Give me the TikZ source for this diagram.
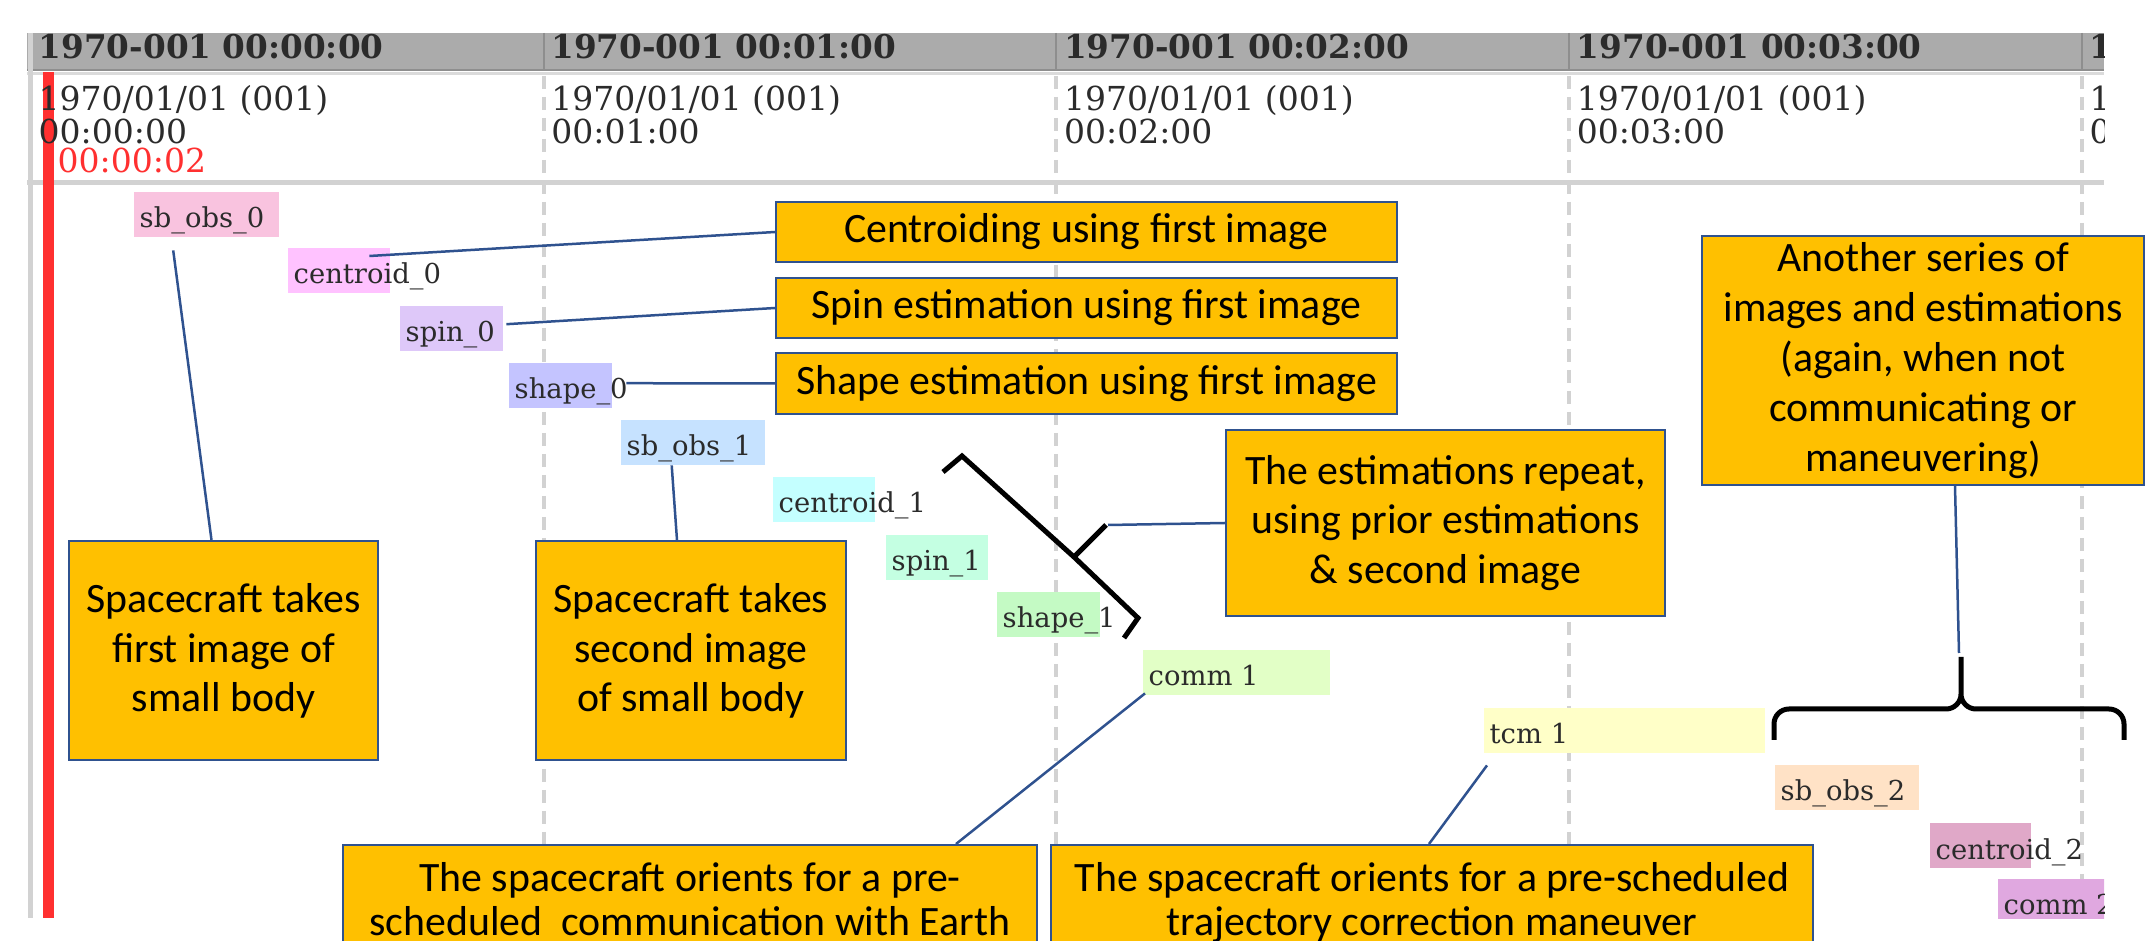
\documentclass[tikz,border=0pt]{standalone}
\usepackage{fontspec}
\setmainfont{Carlito}
\newfontfamily\gridfont{DejaVu Serif}
\usetikzlibrary{calc}
\definecolor{calloutfill}{HTML}{FFC000}
\definecolor{calloutline}{HTML}{2F528F}
\definecolor{hdrgray}{HTML}{ABABAB}
\definecolor{hdrdark}{HTML}{8E8E8E}
\definecolor{gridgray}{HTML}{D2D2D2}
\definecolor{nowred}{HTML}{FF3030}
\definecolor{inktext}{HTML}{2B2B2B}
\definecolor{sbobsA}{HTML}{F9C3DF}
\definecolor{centroidA}{HTML}{FFC2FF}
\definecolor{spinA}{HTML}{DEC8F9}
\definecolor{shapeA}{HTML}{C4C4FF}
\definecolor{sbobsB}{HTML}{C6E2FF}
\definecolor{centroidB}{HTML}{C4FFFF}
\definecolor{spinB}{HTML}{C4FFE2}
\definecolor{shapeB}{HTML}{C4FAC4}
\definecolor{commA}{HTML}{E2FFC6}
\definecolor{tcmA}{HTML}{FFFFC8}
\definecolor{sbobsC}{HTML}{FFE2C6}
\definecolor{centroidC}{HTML}{E0A8C8}
\definecolor{commB}{HTML}{E0A8E0}
\begin{document}
\begin{tikzpicture}[x=0.1mm, y=-0.1mm,
  callout/.style={draw=calloutline, fill=calloutfill, line width=0.2mm, inner sep=0pt, anchor=north west, align=center, font=\fontsize{11.9}{14.2}\selectfont},
  callouttext/.style={inner sep=0pt, anchor=base, align=center, font=\fontsize{11.9}{14.1}\selectfont},
  link/.style={draw=calloutline, line width=0.25mm},
  bracepath/.style={line width=0.5mm},
  bar/.style={anchor=north west, inner sep=0pt, minimum height=4.5mm},
  barlabel/.style={anchor=base west, inner sep=0pt, text=inktext, font=\gridfont\fontsize{7.8}{9}\selectfont},
  hdrtext/.style={anchor=base west, inner sep=0pt, text=inktext, font=\gridfont\bfseries\fontsize{9.3}{10}\selectfont},
  datetext/.style={anchor=base west, inner sep=0pt, align=left, text=inktext, font=\gridfont\fontsize{9.4}{7.9}\selectfont},
  gridline/.style={draw=gridgray, line width=0.4mm, dash pattern=on 1.3mm off 0.8mm}]
\useasboundingbox (0,0) rectangle (2154,941);
\clip (0,0) rectangle (2154,941);
\begin{scope}
  \clip (27,33) rectangle (2104,918);
  \fill[hdrgray] (27,33) rectangle (2104,70);
  \draw[hdrdark, line width=0.2mm] (27,70) -- (2104,70);
  \draw[gridgray!80, line width=0.3mm] (27,74) -- (2104,74);
  \draw[gridgray, line width=0.5mm] (27,183) -- (2104,183);
  \draw[gridgray, line width=0.5mm] (30,33) -- (30,918);
  \foreach \k in {1,...,4} {
    \draw[hdrdark, line width=0.2mm] ({31+512.7*\k},33) -- ({31+512.7*\k},70);
    \draw[gridline] ({31+512.7*\k},76) -- ({31+512.7*\k},918);
  }
  \draw[nowred, line width=1.1mm] (48,72) -- (48,918);
  \foreach \k in {0,...,4} {
    \node[hdrtext] (hdr\k) at ({38+512.7*\k},59) {1970-001 00:0\k:00};
    \node[datetext] (date\k) at ({38+512.7*\k},144) {1970/01/01 (001)\\00:0\k:00};
  }
  \node[datetext, text=nowred] (nowtime) at (57,173) {00:00:02};
  \foreach \n/\x/\y/\w/\c/\t in {
      sbobs0/133/191/145/sbobsA/sb\_obs\_0, centroid0/287/247/102/centroidA/centroid\_0,
      spin0/399/305/103/spinA/spin\_0, shape0/508/362/103/shapeA/shape\_0,
      sbobs1/620/419/144/sbobsB/sb\_obs\_1, centroid1/772/476/102/centroidB/centroid\_1,
      spin1/885/534/102/spinB/spin\_1, shape1/996/591/103/shapeB/shape\_1,
      comm1/1142/649/187/commA/comm 1, tcm1/1483/707/281/tcmA/tcm 1,
      sbobs2/1774/764/144/sbobsC/sb\_obs\_2, centroid2/1929/822/101/centroidC/centroid\_2,
      comm2/1997/878/130/commB/comm 2} {
    \node[bar, fill=\c, minimum width=\w*0.1mm] (\n) at (\x,\y) {};
    \node[barlabel] (\n label) at (\x+6,\y+37) {\t};
  }
\end{scope}
\node[callout, minimum width=62.1mm, minimum height=6mm] (centroidbox) at (775,201) {Centroiding using first image};
\node[callout, minimum width=62.1mm, minimum height=6mm] (spinbox) at (775,277) {Spin estimation using first image};
\node[callout, minimum width=62.1mm, minimum height=6.1mm] (shapebox) at (775,352) {Shape estimation using first image};
\node[callout, minimum width=43.9mm, minimum height=18.6mm] (repeatbox) at (1225,429) {The estimations repeat,\\using prior estimations\\\& second image};
\node[callout, minimum width=44.2mm, minimum height=24.9mm] (seriesbox) at (1701,235) {Another series of\\images and estimations\\(again, when not\\communicating or\\maneuvering)};
\node[callout, minimum width=30.9mm, minimum height=21.9mm] (obsbox0) at (68,540) {};
\node[callouttext] (obstext0) at ($(obsbox0.north)+(0,172)$) {Spacecraft takes\\first image of\\small body};
\node[callout, minimum width=31mm, minimum height=21.9mm] (obsbox1) at (535,540) {};
\node[callouttext] (obstext1) at ($(obsbox1.north)+(0,172)$) {Spacecraft takes\\second image\\of small body};
\node[callout, minimum width=69.4mm, minimum height=15mm] (commbox) at (342,844) {};
\node[callouttext, font=\fontsize{11.9}{12.7}\selectfont] (commtext) at ($(commbox.north)+(0,92)$) {The spacecraft orients for a pre-\\scheduled\ \ communication with Earth};
\node[callout, minimum width=76.2mm, minimum height=15mm] (tcmbox) at (1050,844) {};
\node[callouttext, font=\fontsize{11.9}{12.7}\selectfont] (tcmtext) at ($(tcmbox.north)+(0,92)$) {The spacecraft orients for a pre-scheduled\\trajectory correction maneuver};
\coordinate (repeattip) at (1106,525);
\coordinate (seriestip) at (1961,657);
\draw[bracepath] (943,472) -- (962,456) -- (1074,557) -- (repeattip) (1074,557) -- (1138,618) -- (1124,638);
\draw[bracepath, rounded corners=1.5mm] (1774,740) -- (1774,709) -- (1961,709) -- (seriestip) (seriestip) -- (1961,709) -- (2124,709) -- (2124,740);
\draw[link] ($(sbobs0.south)+(-33,13)$) -- ($(obsbox0.north)+(-12,0)$);
\draw[link] ($(centroid0.north east)+(-21,9)$) -- (centroidbox.west);
\draw[link] ($(spin0.east)+(3,-4)$) -- (spinbox.west);
\draw[link] ($(shape0.east)+(14,-2)$) -- (shapebox.west);
\draw[link] ($(sbobs1.south)+(-21,0)$) -- ($(obsbox1.north)+(-14,0)$);
\draw[link] ($(repeattip)+(2,0)$) -- (repeatbox.west);
\draw[link] ($(seriesbox.south)+(32,0)$) -- ($(seriestip)+(-2,-4)$);
\draw[link] ($(comm1.south west)+(3,-2)$) -- ($(commbox.north)+(266,0)$);
\draw[link] ($(tcm1.south west)+(4,12)$) -- ($(tcmbox.north)+(-3,0)$);
\end{tikzpicture}
\end{document}
